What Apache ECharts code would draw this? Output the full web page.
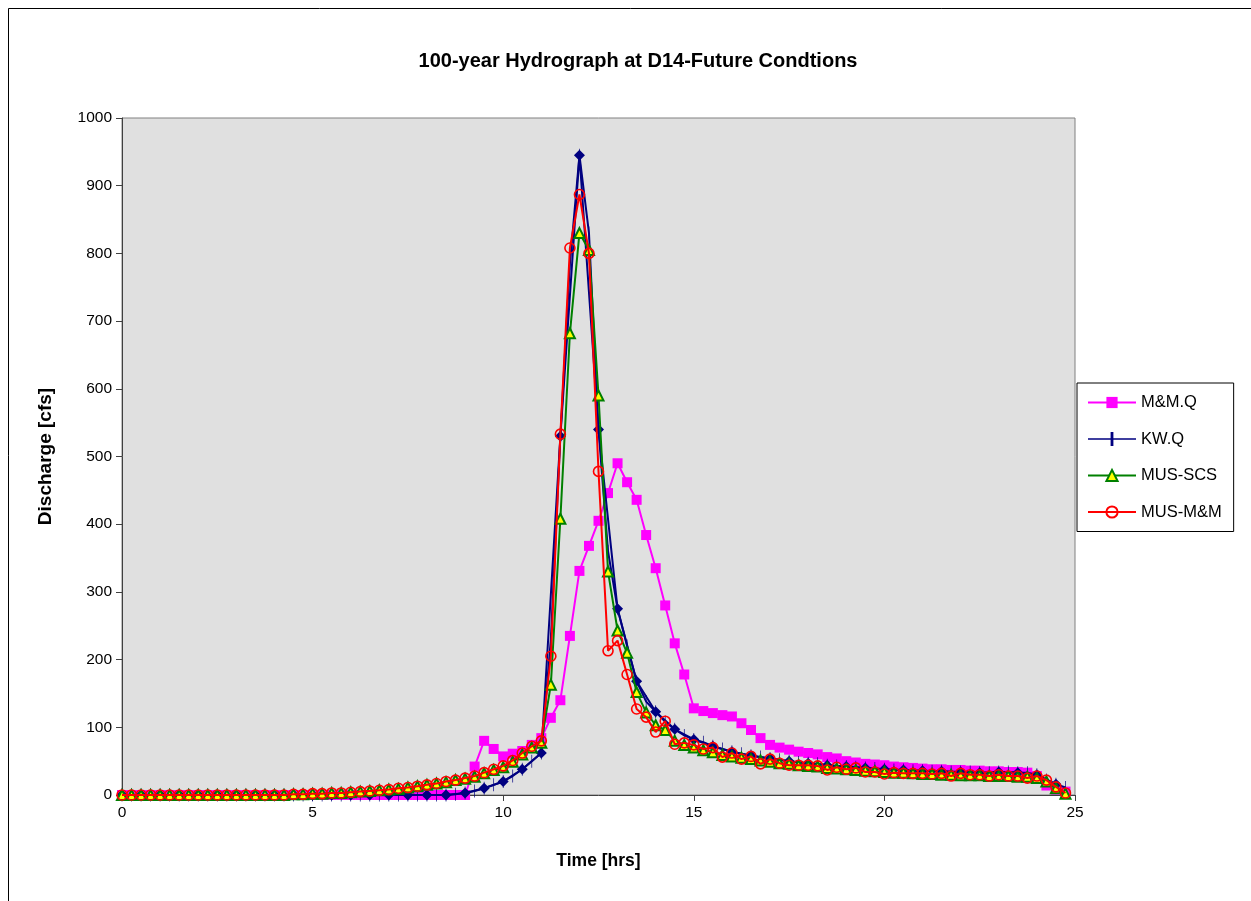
<!DOCTYPE html>
<html>
<head>
<meta charset="utf-8">
<script src="https://cdn.jsdelivr.net/npm/echarts@6/dist/echarts.min.js"></script>
<style>html,body{margin:0;padding:0;background:#fff}#c{width:1251px;height:901px}</style>
</head>
<body>
<div id="c"></div>
<script>
const TITLE = '100-year Hydrograph at D14-Future Condtions';
const SERIES_NAMES = ['M&M.Q', 'KW.Q', 'MUS-SCS', 'MUS-M&M'];
const TIME = [0,0.25,0.5,0.75,1,1.25,1.5,1.75,2,2.25,2.5,2.75,3,3.25,3.5,3.75,4,4.25,4.5,4.75,
5,5.25,5.5,5.75,6,6.25,6.5,6.75,7,7.25,7.5,7.75,8,8.25,8.5,8.75,9,9.25,9.5,9.75,
10,10.25,10.5,10.75,11,11.25,11.5,11.75,12,12.25,12.5,12.75,13,13.25,13.5,13.75,14,14.25,14.5,14.75,
15,15.25,15.5,15.75,16,16.25,16.5,16.75,17,17.25,17.5,17.75,18,18.25,18.5,18.75,19,19.25,19.5,19.75,
20,20.25,20.5,20.75,21,21.25,21.5,21.75,22,22.25,22.5,22.75,23,23.25,23.5,23.75,24,24.25,24.5,24.75];

const MMQ = [0,0,0,0,0,0,0,0,0,0,0,0,0,0,0,0,0,0,0,0,
0,0,0,0,0,0,0,0,0,0,0,0,0,0,0,0,0,42,80,68,
57,61,65,74,84,114,140,235,331,368,405,446,490,462,436,384,335,280,224,178,
128,124,121,118,116,106,96,84,74,70,67,64,62,60,56,54,50,48,46,45,
44,42,41,40,39,38,38,37,37,36,36,35,35,34,34,33,28,14,8,5];

const KWQ = [0,0,0,0,0,0,0,0,0,0,0,0,0,0,0,0,0,0,0,0,
0,0,0,0,0,0,0,0,0,0,0,0,0,0,0,1,3,6,10,15,
20,28,38,50,62,230,530,785,945,830,540,360,275,220,168,138,123,108,97,88,
82,78,72,68,64,61,58,56,54,52,50,48,47,46,44,43,42,41,40,39,
38,37,37,36,36,35,35,34,34,34,33,33,34,34,33,33,30,22,16,11];

const MUS_SCS = [0,0,0,0,0,0,0,0,0,0,0,0,0,0,0,0,0,0,1,1,
2,2,3,3,4,5,6,7,8,9,11,13,15,17,19,22,24,27,32,37,
41,49,60,70,77,163,408,682,830,805,590,330,243,210,152,122,103,96,80,74,
70,66,63,59,57,55,53,51,49,47,46,44,43,42,40,39,38,37,36,35,
34,33,33,32,31,31,30,30,29,29,29,28,28,28,27,27,25,20,10,2];

const MUS_MM = [0,0,0,0,0,0,0,0,0,0,0,0,0,0,0,0,0,0,1,1,
2,2,3,3,4,5,6,7,8,10,11,13,15,17,20,22,25,28,33,38,
43,51,62,72,80,205,533,808,887,800,478,213,228,178,127,115,93,109,75,77,
74,68,70,56,62,53,57,46,53,47,44,44,44,43,37,41,38,40,34,34,
31,33,32,32,32,31,32,28,32,30,30,28,30,28,28,25,28,22,12,3];

const X_TICKS = [0, 5, 10, 15, 20, 25];
const Y_TICKS = [0, 100, 200, 300, 400, 500, 600, 700, 800, 900, 1000];

const pairs = vals => TIME.map((t, i) => [t, vals[i]]);
const halfHour = vals => TIME.map((t, i) => [t, vals[i]]).filter((p, i) => i % 2 === 0);

const FONT = 'Arial, "Liberation Sans", sans-serif';
const PLUS = 'path://M0,0H3V13H0Z';
const KW_LEGEND_ICON = 'path://M0,6.2H48V7.8H0Z M22.6,0H25.4V14H22.6Z';
const chart = echarts.init(document.getElementById('c'), null, {renderer: 'canvas'});
chart.setOption({
  animation: false,
  backgroundColor: '#ffffff',
  textStyle: {fontFamily: FONT},
  title: {
    text: TITLE, left: 633, top: 46, textAlign: 'center',
    textStyle: {fontFamily: FONT, fontSize: 20, fontWeight: 'bold', color: '#000'}
  },
  graphic: [{
    type: 'rect', shape: {x: 8.5, y: 8.5, width: 1260, height: 910},
    style: {fill: 'none', stroke: '#000', lineWidth: 1}, silent: true, z: -1
  }],
  grid: {
    left: 122, right: 176, top: 118, bottom: 106,
    show: true, backgroundColor: '#E0E0E0', borderColor: '#808080', borderWidth: 1
  },
  legend: {
    data: [
      {name: SERIES_NAMES[0]},
      {name: SERIES_NAMES[1], icon: KW_LEGEND_ICON, itemStyle: {color: '#000080', borderWidth: 0}},
      {name: SERIES_NAMES[2]},
      {name: SERIES_NAMES[3]}
    ],
    orient: 'vertical', left: 1077, top: 383,
    padding: [11, 12, 11, 10], itemWidth: 48, itemHeight: 14, itemGap: 19.5,
    borderColor: '#000', borderWidth: 1, backgroundColor: '#fff',
    textStyle: {fontFamily: FONT, fontSize: 16.5, color: '#000'}
  },
  xAxis: {
    type: 'value', min: X_TICKS[0], max: X_TICKS[X_TICKS.length - 1], interval: 5,
    name: 'Time [hrs]', nameLocation: 'middle', nameGap: 57,
    nameTextStyle: {fontFamily: FONT, fontSize: 17.5, fontWeight: 'bold', color: '#000'},
    axisLine: {onZero: false, lineStyle: {color: '#404040', width: 1}},
    axisTick: {show: true, length: 6, lineStyle: {color: '#404040'}},
    axisLabel: {fontFamily: FONT, fontSize: 15.5, color: '#000', margin: 10},
    splitLine: {show: false}
  },
  yAxis: {
    type: 'value', min: Y_TICKS[0], max: Y_TICKS[Y_TICKS.length - 1], interval: 100,
    name: 'Discharge [cfs]', nameLocation: 'middle', nameGap: 67, nameRotate: 90,
    nameTextStyle: {fontFamily: FONT, fontSize: 19, fontWeight: 'bold', color: '#000'},
    axisLine: {show: true, lineStyle: {color: '#404040', width: 1}},
    axisTick: {show: true, length: 6, lineStyle: {color: '#404040'}},
    axisLabel: {fontFamily: FONT, fontSize: 15.5, color: '#000', margin: 10, formatter: v => String(v)},
    splitLine: {show: false}
  },
  series: [
    {
      name: 'M&M.Q', type: 'line', data: pairs(MMQ), showAllSymbol: true,
      symbol: 'rect', symbolSize: 10, color: '#FF00FF',
      lineStyle: {color: '#FF00FF', width: 2}, itemStyle: {color: '#FF00FF'}, z: 2
    },
    {
      name: 'KW', type: 'line', data: halfHour(KWQ), showAllSymbol: true,
      symbol: 'diamond', symbolSize: 11, color: '#000080',
      lineStyle: {color: '#000080', width: 2}, itemStyle: {color: '#000080'}, z: 3
    },
    {
      name: 'KW.Q', type: 'line', data: pairs(KWQ), showAllSymbol: true,
      symbol: PLUS, symbolSize: [3, 13], symbolKeepAspect: true, color: '#000080',
      lineStyle: {color: '#000080', width: 2}, itemStyle: {color: '#000080'}, z: 4
    },
    {
      name: 'MUS-SCS', type: 'line', data: pairs(MUS_SCS), showAllSymbol: true,
      symbol: 'triangle', symbolSize: 10, color: '#008000',
      lineStyle: {color: '#008000', width: 2},
      itemStyle: {color: '#FFFF00', borderColor: '#008000', borderWidth: 2}, z: 5
    },
    {
      name: 'MUS-M&M', type: 'line', data: pairs(MUS_MM), showAllSymbol: true,
      symbol: 'circle', symbolSize: 10, color: '#FF0000',
      lineStyle: {color: '#FF0000', width: 2},
      itemStyle: {color: 'rgba(255,255,255,0)', borderColor: '#FF0000', borderWidth: 1.6}, z: 6
    }
  ]
});
</script>
</body>
</html>
